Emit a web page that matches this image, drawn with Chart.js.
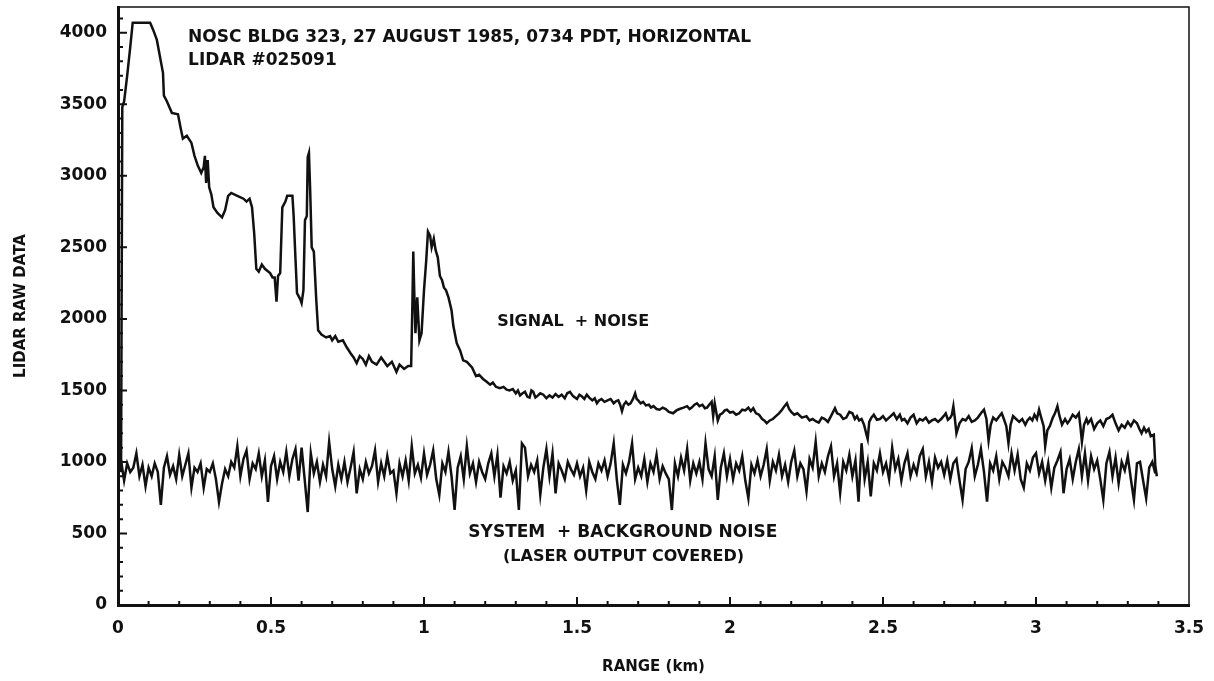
<!DOCTYPE html>
<html>
<head>
<meta charset="utf-8">
<title>Lidar raw data</title>
<script src="https://cdn.jsdelivr.net/npm/chart.js@4.4.1/dist/chart.umd.min.js"></script>
<style>
  html, body { margin: 0; padding: 0; background: #fff; }
  #wrap { width: 1214px; height: 681px; position: relative; }
</style>
</head>
<body>
<div id="wrap"><canvas id="lidar"></canvas></div>
<script>
// signal + noise trace (range in km, raw counts)
const signalRange = [
  0, 0.005, 0.01, 0.014, 0.02, 0.03, 0.04, 0.048, 0.105, 0.115,
  0.127, 0.14, 0.147, 0.15, 0.16, 0.176, 0.196, 0.205, 0.212, 0.225,
  0.24, 0.25, 0.261, 0.272, 0.28, 0.284, 0.288, 0.293, 0.298, 0.305,
  0.312, 0.325, 0.34, 0.35, 0.36, 0.37, 0.39, 0.41, 0.42, 0.43,
  0.438, 0.445, 0.452, 0.46, 0.47, 0.48, 0.497, 0.505, 0.512, 0.518,
  0.523, 0.53, 0.537, 0.547, 0.553, 0.57, 0.574, 0.58, 0.585, 0.595,
  0.6, 0.606, 0.611, 0.617, 0.62, 0.624, 0.628, 0.633, 0.64, 0.648,
  0.654, 0.665, 0.68, 0.693, 0.7, 0.71, 0.72, 0.735, 0.748, 0.76,
  0.77, 0.78, 0.79, 0.8, 0.81, 0.82, 0.83, 0.845, 0.86, 0.87,
  0.88, 0.895, 0.91, 0.92, 0.935, 0.948, 0.958, 0.962, 0.965, 0.968,
  0.972, 0.978, 0.985, 0.992, 1.0, 1.007, 1.013, 1.02, 1.025, 1.032,
  1.038, 1.045, 1.052, 1.059, 1.065, 1.072, 1.08, 1.09, 1.096, 1.107,
  1.118, 1.128, 1.14, 1.157,
  1.17, 1.18, 1.193, 1.205, 1.216, 1.225, 1.235, 1.248, 1.26, 1.27,
  1.28, 1.29, 1.3, 1.307, 1.314, 1.322, 1.33, 1.338, 1.345, 1.351,
  1.357, 1.364, 1.37, 1.38, 1.39, 1.4, 1.41, 1.42, 1.43, 1.44,
  1.45, 1.46, 1.468, 1.477, 1.487, 1.5, 1.508, 1.515, 1.524, 1.532,
  1.54, 1.55, 1.558, 1.565, 1.572, 1.58, 1.59, 1.6, 1.61, 1.62,
  1.628, 1.635, 1.641, 1.647, 1.653, 1.66, 1.668, 1.675, 1.683, 1.69,
  1.695, 1.7, 1.708, 1.716, 1.725, 1.735, 1.742, 1.75, 1.76, 1.77,
  1.78, 1.79, 1.8, 1.814, 1.825, 1.835, 1.848, 1.86, 1.868, 1.875,
  1.884, 1.892, 1.9, 1.91, 1.918, 1.925, 1.932, 1.94, 1.945, 1.95,
  1.955, 1.96, 1.967, 1.975, 1.983, 1.99, 2.0, 2.01, 2.02, 2.03,
  2.04, 2.05, 2.06, 2.068, 2.076, 2.085, 2.095, 2.105, 2.112, 2.12,
  2.13, 2.14, 2.15, 2.16, 2.17, 2.178, 2.186, 2.193, 2.2, 2.21,
  2.22, 2.235, 2.25, 2.26, 2.27, 2.28, 2.29, 2.3, 2.31, 2.32,
  2.33, 2.337, 2.343, 2.35, 2.36, 2.37, 2.38, 2.39, 2.4, 2.408,
  2.415, 2.422, 2.43, 2.438, 2.445, 2.45, 2.455, 2.462, 2.47, 2.48,
  2.49, 2.5, 2.51, 2.52, 2.535, 2.545, 2.555, 2.562, 2.57, 2.58,
  2.59, 2.6, 2.61, 2.62, 2.63, 2.64, 2.65, 2.66, 2.67, 2.68,
  2.69, 2.698, 2.705, 2.712, 2.72, 2.725, 2.73, 2.735, 2.74, 2.75,
  2.76, 2.77, 2.78, 2.79, 2.8, 2.81, 2.82, 2.83, 2.838, 2.845,
  2.852, 2.86, 2.87, 2.88, 2.888, 2.895, 2.903, 2.91, 2.917, 2.925,
  2.935, 2.945, 2.955, 2.965, 2.972, 2.98, 2.988, 2.995, 3.003, 3.01,
  3.017, 3.025, 3.03, 3.037, 3.045, 3.055, 3.062, 3.07, 3.077, 3.085,
  3.095, 3.103, 3.11, 3.12, 3.13, 3.14, 3.145, 3.15, 3.157, 3.165,
  3.17, 3.18, 3.19, 3.2, 3.21, 3.22, 3.23, 3.24, 3.25, 3.26,
  3.27, 3.28, 3.29, 3.3, 3.31, 3.32, 3.33, 3.338, 3.345, 3.353,
  3.36, 3.368, 3.375, 3.385, 3.39, 3.395
];
const signalValues = [
  950, 1000, 930, 3480, 3520, 3700, 3900, 4070, 4070, 4020,
  3950, 3800, 3720, 3560, 3520, 3440, 3430, 3330, 3260, 3280,
  3230, 3140, 3070, 3020, 3060, 3140, 2950, 3110, 2920, 2870,
  2780, 2740, 2710, 2760, 2860, 2880, 2860, 2840, 2820, 2840,
  2780, 2600, 2350, 2330, 2380, 2350, 2320, 2290, 2290, 2120,
  2300, 2320, 2780, 2820, 2860, 2860, 2720, 2420, 2180, 2140,
  2110, 2200, 2690, 2720, 3130, 3160, 2900, 2500, 2470, 2130,
  1920, 1890, 1870, 1880, 1850, 1880, 1840, 1850, 1800, 1760,
  1730, 1690, 1740, 1720, 1680, 1740, 1700, 1680, 1730, 1700,
  1670, 1700, 1630, 1680, 1650, 1670, 1670, 2100, 2470, 2200,
  1900, 2150, 1850, 1900, 2200, 2400, 2610, 2580, 2500, 2560,
  2480, 2430, 2300, 2270, 2220, 2200, 2150, 2060, 1950, 1830,
  1780, 1710, 1700, 1660,
  1600, 1610, 1580, 1560, 1540, 1555, 1525, 1515, 1525, 1505,
  1500, 1510, 1480, 1500, 1465, 1480, 1490, 1455, 1450, 1500,
  1490, 1450, 1460, 1480, 1470, 1445, 1465, 1450, 1475, 1455,
  1470, 1445, 1480, 1490, 1460, 1440, 1470, 1460, 1440, 1470,
  1450, 1430, 1445, 1410, 1430, 1440, 1420, 1430, 1440, 1410,
  1425, 1430, 1400, 1355, 1400, 1420, 1400, 1410, 1440, 1480,
  1440, 1430, 1410, 1420, 1395, 1400, 1380, 1390, 1370, 1365,
  1380, 1370, 1350, 1340, 1360, 1370, 1380, 1390, 1370, 1380,
  1400, 1410, 1390, 1400, 1375, 1380, 1400, 1420, 1320, 1410,
  1350, 1290, 1330, 1340, 1360, 1365, 1345, 1350, 1330, 1340,
  1365, 1360, 1380, 1355, 1375, 1340, 1330, 1300, 1290, 1270,
  1290, 1300, 1320, 1340, 1365, 1390, 1410, 1370, 1350, 1330,
  1340, 1310, 1320, 1290, 1300, 1285, 1275, 1310, 1300, 1280,
  1320, 1350, 1375, 1340, 1330, 1300, 1310, 1350, 1340, 1300,
  1320, 1290, 1300, 1260, 1200, 1160, 1280, 1310, 1330, 1295,
  1300, 1320, 1290, 1310, 1340, 1300, 1330, 1290, 1300, 1270,
  1310, 1330, 1270, 1300, 1290, 1310, 1275, 1290, 1300, 1280,
  1300, 1320, 1340, 1295, 1310, 1330, 1390, 1300, 1200, 1270,
  1300, 1290, 1320, 1280, 1290, 1310, 1340, 1365, 1300, 1150,
  1260, 1310, 1290, 1320, 1340, 1300, 1250, 1130, 1260, 1320,
  1300, 1280, 1300, 1260, 1290, 1310, 1290, 1330, 1300, 1365,
  1310, 1250, 1110, 1220, 1250, 1310, 1340, 1390, 1320, 1260,
  1300, 1270, 1290, 1330, 1310, 1340, 1250, 1140, 1260, 1300,
  1270, 1300, 1230, 1270, 1290, 1250, 1300, 1310, 1330, 1270,
  1220, 1260, 1240, 1280, 1250, 1290, 1270, 1230, 1200, 1240,
  1210, 1230, 1180, 1190, 970, 900
];

// system + background noise, sampled every 0.01 km from 0
const noiseStep = 0.01;
const noiseValues = [
  950, 1010, 870, 990, 930, 960, 1060, 900, 980, 830,
  960, 900, 990, 930, 700, 960, 1040, 910, 970, 880,
  1050, 900, 980, 1060, 820, 960, 930, 990, 820, 950,
  930, 990, 880, 720, 850, 950, 900, 1000, 960, 1110,
  900, 1020, 1080, 880, 990, 950, 1060, 900, 1010, 720,
  970, 1040, 880, 1000, 930, 1070, 900, 1020, 1090, 870,
  1100, 880, 650, 1060, 920, 1000, 860, 980, 900, 1140,
  950, 830, 980, 880, 1000, 860, 960, 1070, 780, 950,
  880, 1000, 920, 970, 1080, 860, 990, 900, 1040, 920,
  940, 780, 990, 900, 1010, 870, 1110, 920, 980, 890,
  1060, 910, 980, 1080, 880, 770, 990, 930, 1070, 900,
  664, 960, 1040, 880, 1110, 920, 990, 860, 1000, 930,
  880, 990, 1060, 900, 1050, 750, 970, 920, 1000, 870,
  940, 664, 1130, 1100, 900, 980, 930, 1010, 770, 960,
  1090, 900, 1060, 780, 990, 940, 880, 1000, 950, 910,
  990, 900, 960, 800, 1000, 930, 880, 990, 940, 1010,
  900, 990, 1130, 880, 700, 980, 920, 1000, 1130, 880,
  960, 900, 1020, 860, 990, 930, 1050, 880, 970, 920,
  880, 664, 990, 900, 1030, 940, 1090, 870, 990, 920,
  1000, 880, 1130, 950, 900, 1040, 734, 960, 1060, 900,
  1020, 880, 990, 940, 1040, 870, 746, 980, 920, 1010,
  900, 980, 1090, 870, 1000, 940, 1050, 900, 980, 860,
  1000, 1080, 900, 990, 950, 794, 1020, 960, 1140, 900,
  990, 930, 1040, 1110, 900, 990, 783, 1000, 940, 1050,
  900, 1010, 723, 1131, 880, 1000, 760, 990, 940, 1060,
  930, 990, 880, 1100, 950, 1020, 870, 990, 1060, 900,
  980, 920, 1040, 1090, 900, 1000, 860, 1030, 960, 1000,
  910, 1010, 880, 990, 1020, 870, 735, 950, 1000, 1096,
  900, 980, 1090, 930, 723, 990, 940, 1040, 880, 1000,
  960, 900, 1060, 940, 1050, 880, 820, 990, 940, 1030,
  1060, 920, 1000, 870, 990, 820, 960, 1010, 1070, 781,
  950, 1020, 880, 1000, 1090, 900, 1060, 870, 1040, 950,
  1010, 880, 735, 990, 1070, 900, 1030, 850, 1000, 940,
  1040, 880, 735, 990, 1000, 870, 746, 960, 1000, 920
];

const xTicks = [0, 0.5, 1, 1.5, 2, 2.5, 3, 3.5];
const xTickLabels = ['0', '0.5', '1', '1.5', '2', '2.5', '3', '3.5'];
const yTicks = [0, 500, 1000, 1500, 2000, 2500, 3000, 3500, 4000];
const yTickLabels = ['0', '500', '1000', '1500', '2000', '2500', '3000', '3500', '4000'];

const FONT = "'DejaVu Sans', 'Liberation Sans', sans-serif";
const INK = '#111';

// text written inside the plot, anchored in data units
const notes = [
  { text: 'NOSC BLDG 323, 27 AUGUST 1985, 0734 PDT, HORIZONTAL', x: 0.229, y: 3937, align: 'left', size: 17 },
  { text: 'LIDAR #025091', x: 0.229, y: 3776, align: 'left', size: 17 },
  { text: 'SIGNAL  + NOISE', x: 1.239, y: 1951, align: 'left', size: 16 },
  { text: 'SYSTEM  + BACKGROUND NOISE', x: 1.65, y: 476, align: 'center', size: 17 },
  { text: '(LASER OUTPUT COVERED)', x: 1.652, y: 308, align: 'center', size: 16 }
];

const framePlugin = {
  id: 'frame',
  afterDraw(chart) {
    const { ctx, chartArea: a, scales: { x, y } } = chart;
    ctx.save();
    ctx.strokeStyle = INK;

    // thin top and right edges of the box
    ctx.lineWidth = 1.5;
    ctx.beginPath();
    ctx.moveTo(a.left, a.top);
    ctx.lineTo(a.right, a.top);
    ctx.lineTo(a.right, a.bottom);
    ctx.stroke();

    // small inward tick marks
    ctx.lineWidth = 2;
    ctx.beginPath();
    for (let i = 1; i <= 34; i++) {
      const px = x.getPixelForValue(i / 10);
      const len = i % 5 === 0 ? 8 : 4;
      ctx.moveTo(px, a.bottom);
      ctx.lineTo(px, a.bottom - len);
    }
    for (let j = 1; j <= 41; j++) {
      const py = y.getPixelForValue(j * 100);
      const len = j % 5 === 0 ? 9 : 5;
      ctx.moveTo(a.left, py);
      ctx.lineTo(a.left + len, py);
    }
    ctx.stroke();

    // labels
    ctx.fillStyle = INK;
    ctx.textBaseline = 'alphabetic';
    notes.forEach(n => {
      ctx.font = `bold ${n.size}px ${FONT}`;
      ctx.textAlign = n.align;
      ctx.fillText(n.text, x.getPixelForValue(n.x), y.getPixelForValue(n.y));
    });
    ctx.restore();
  }
};

function noPad(s) {
  s.paddingLeft = 0;
  s.paddingRight = 0;
  s.paddingTop = 0;
  s.paddingBottom = 0;
}

new Chart(document.getElementById('lidar'), {
  type: 'line',
  data: {
    datasets: [
      {
        label: 'Signal + noise',
        data: signalRange.map((r, i) => ({ x: r, y: signalValues[i] })),
        borderColor: INK,
        borderWidth: 2.5,
        pointRadius: 0,
        tension: 0
      },
      {
        label: 'System + background noise',
        data: noiseValues.map((v, i) => ({ x: i * noiseStep, y: v })),
        borderColor: INK,
        borderWidth: 2.5,
        pointRadius: 0,
        tension: 0
      }
    ]
  },
  options: {
    responsive: true,
    maintainAspectRatio: false,
    animation: false,
    layout: { padding: { top: 7, right: 25, left: 0, bottom: 0 } },
    plugins: {
      legend: { display: false },
      tooltip: { enabled: false }
    },
    scales: {
      x: {
        type: 'linear',
        min: 0,
        max: 3.5,
        afterFit: s => { s.height = 76; noPad(s); },
        afterBuildTicks: s => { s.ticks = xTicks.map(v => ({ value: v })); },
        grid: { display: false, drawTicks: false },
        border: { display: true, color: INK, width: 3 },
        ticks: {
          padding: 13,
          color: INK,
          font: { family: FONT, size: 17, weight: 'bold' },
          callback: (v, i) => xTickLabels[i]
        },
        title: {
          display: true,
          text: 'RANGE (km)',
          color: INK,
          font: { family: FONT, size: 15, weight: 'bold' },
          padding: { top: 0, bottom: 5 }
        }
      },
      y: {
        min: 0,
        max: 4180,
        afterFit: s => { s.width = 118; noPad(s); },
        afterBuildTicks: s => { s.ticks = yTicks.map(v => ({ value: v })); },
        grid: { display: false, drawTicks: false },
        border: { display: true, color: INK, width: 3 },
        ticks: {
          padding: 11,
          color: INK,
          font: { family: FONT, size: 17, weight: 'bold' },
          callback: (v, i) => yTickLabels[i]
        },
        title: {
          display: true,
          text: 'LIDAR RAW DATA',
          color: INK,
          font: { family: FONT, size: 15, weight: 'bold' },
          padding: { top: 12, bottom: 0 }
        }
      }
    }
  },
  plugins: [framePlugin]
});
</script>
</body>
</html>
